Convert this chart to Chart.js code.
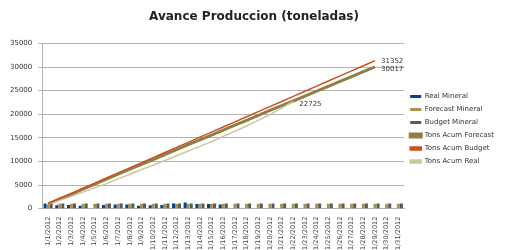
<!DOCTYPE html>
<html>
<head>
<meta charset="utf-8">
<script src="https://cdn.jsdelivr.net/npm/chart.js@4/dist/chart.umd.min.js"></script>
<style>
    html, body { margin: 0; padding: 0; background: #fff; }
    #wrap { width: 508px; height: 250px; }
</style>
</head>
<body>
<div id="wrap"><canvas id="avance"></canvas></div>
<script>
// dias de enero
var days = ["1/1/2012","1/2/2012","1/3/2012","1/4/2012","1/5/2012","1/6/2012","1/7/2012","1/8/2012",
    "1/9/2012","1/10/2012","1/11/2012","1/12/2012","1/13/2012","1/14/2012","1/15/2012","1/16/2012",
    "1/17/2012","1/18/2012","1/19/2012","1/20/2012","1/21/2012","1/22/2012","1/23/2012","1/24/2012",
    "1/25/2012","1/26/2012","1/27/2012","1/28/2012","1/29/2012","1/30/2012","1/31/2012"]

var realMineral = [1100, 700, 800, 600, null, 800, 900, 900, 600, 700, 800, 1100, 1300, 1000, 1000, 900,
    null, null, null, null, null, null, null, null, null, null, null, null, null, null, null]
var forecastMineral = [900, 1050, 1050, 1050, 1050, 1050, 1050, 1050, 1050, 1050, 1050, 1050, 1050, 1050, 1050, 1050,
    1050, 1050, 1050, 1050, 1050, 1050, 1050, 1050, 1050, 1050, 1050, 1050, 1050, 1050, 1050]
var budgetMineral = [1100, 1100, 1100, 1100, 1100, 1100, 1100, 1100, 1100, 1100, 1100, 1100, 1100, 1100, 1100, 1100,
    1100, 1100, 1100, 1100, 1100, 1100, 1100, 1100, 1100, 1100, 1100, 1100, 1100, 1100, 1100]

var acumForecast = [1000, 2050, 3100, 4150, 5200, 6250, 7300, 8350, 9400, 10400, 11450, 12500, 13550, 14550,
    15600, 16650, 17700, 18700, 19750, 20800, 21800, 22800, 23850, 24900, 25900, 26950, 27950, 29000, 30017,
    null, null]
var acumBudget = [1080, 2160, 3240, 4320, 5400, 6490, 7570, 8650, 9730, 10810, 11890, 12970, 14050, 15140,
    16220, 17300, 18380, 19460, 20540, 21620, 22700, 23780, 24870, 25950, 27030, 28110, 29190, 30270, 31352,
    null, null]
var acumReal = [1000, 1800, 2600, 3500, 4400, 5300, 6300, 7300, 8300, 9200, 10200, 11200, 12200, 13200,
    14200, 15300, 16400, 17500, 18700, 19900, 21300, 22725,
    null, null, null, null, null, null, null, null, null]

var ctx = document.getElementById("avance")

// etiqueta con el ultimo valor de cada acumulado
const lastValuePlugin = {
    id: "lastValue",
    afterDatasetsDraw(chart){
        var c = chart.ctx
        c.save()
        c.font = "7px 'DejaVu Sans'"
        c.fillStyle = "#333"
        c.textBaseline = "middle"
        chart.data.datasets.forEach(function(ds, i){
            if(!ds.showLast) return
            var meta = chart.getDatasetMeta(i)
            var idx = -1
            ds.data.forEach(function(v, k){ if(v != null) idx = k })
            var pt = meta.data[idx]
            c.fillText(String(ds.data[idx]), pt.x + 6, pt.y + ds.labelShift)
        })
        c.restore()
    }
}

var chart = new Chart(ctx, {
    type: "bar",
    data: {
        labels: days,
        datasets: [
            { label: "Real Mineral", data: realMineral, backgroundColor: "#004586", order: 2 },
            { label: "Forecast Mineral", data: forecastMineral, backgroundColor: "#a8924f", order: 2 },
            { label: "Budget Mineral", data: budgetMineral, backgroundColor: "#5a5a5a", order: 2 },
            { type: "line", label: "Tons Acum Forecast", data: acumForecast, borderColor: "#8e7f45",
              backgroundColor: "#8e7f45", borderWidth: 3, pointRadius: 0, order: 1, showLast: true, labelShift: 2 },
            { type: "line", label: "Tons Acum Budget", data: acumBudget, borderColor: "#cf4f22",
              backgroundColor: "#cf4f22", borderWidth: 1.5, pointRadius: 0, order: 0, showLast: true, labelShift: 1 },
            { type: "line", label: "Tons Acum Real", data: acumReal, borderColor: "#cfc4a2",
              backgroundColor: "#cfc4a2", borderWidth: 1.5, pointRadius: 0, order: 0, showLast: true, labelShift: 3 }
        ]
    },
    options: {
        responsive: true,
        maintainAspectRatio: false,
        animation: false,
        layout: { padding: { left: 4, right: 4, top: 8, bottom: 0 } },
        datasets: {
            bar: { categoryPercentage: 0.78, barPercentage: 1.0 }
        },
        plugins: {
            title: {
                display: true,
                text: "Avance Produccion (toneladas)",
                color: "#222",
                font: { family: "'DejaVu Sans'", size: 12, weight: "bold" },
                padding: { top: 2, bottom: 19 }
            },
            legend: {
                position: "right",
                labels: {
                    boxWidth: 11,
                    boxHeight: 3,
                    padding: 6,
                    color: "#333",
                    font: { family: "'DejaVu Sans'", size: 7 },
                    sort: function(a, b){ return a.datasetIndex - b.datasetIndex }
                }
            },
            tooltip: { enabled: false }
        },
        scales: {
            x: {
                grid: { display: false },
                border: { color: "#b3b3b3" },
                ticks: {
                    autoSkip: false,
                    minRotation: 90,
                    maxRotation: 90,
                    color: "#444",
                    padding: 0,
                    font: { family: "'DejaVu Sans'", size: 6.5 }
                }
            },
            y: {
                min: 0,
                max: 35000,
                ticks: {
                    stepSize: 5000,
                    color: "#333",
                    padding: 6,
                    font: { family: "'DejaVu Sans'", size: 7 },
                    callback: function(v){ return String(v) }
                },
                grid: { color: "#b3b3b3", drawTicks: true, tickLength: 4 },
                border: { color: "#b3b3b3" }
            }
        }
    },
    plugins: [lastValuePlugin]
})
</script>
</body>
</html>
